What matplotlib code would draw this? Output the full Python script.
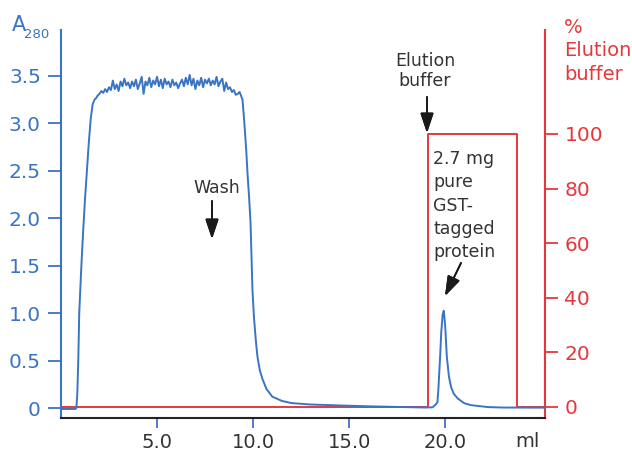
import numpy as np
import matplotlib
matplotlib.use('Agg')
import matplotlib.pyplot as plt

# Dados
blue = '#3a74c4'
red = '#e5383c'
dark = '#333333'

# A280: subida, platô (lavagem), queda, eluição
vol_rise = [0.0, 0.75, 0.8, 0.85, 0.9, 0.95, 1.05, 1.15, 1.25, 1.35, 1.45,
            1.55, 1.65, 1.75, 1.85]
abs_rise = [-0.01, -0.01, 0.0, 0.15, 0.5, 1.0, 1.45, 1.85, 2.2, 2.5, 2.8,
            3.05, 3.2, 3.25, 3.27]

vol_plateau = [1.9, 2.0, 2.1, 2.2, 2.3, 2.4, 2.5, 2.6, 2.7, 2.8, 2.9, 3.0,
               3.1, 3.2, 3.3, 3.4, 3.5, 3.6, 3.7, 3.8, 3.9, 4.0, 4.1, 4.2,
               4.3, 4.4, 4.5, 4.6, 4.7, 4.8, 4.9, 5.0, 5.1, 5.2, 5.3, 5.4,
               5.5, 5.6, 5.7, 5.8, 5.9, 6.0, 6.1, 6.2, 6.3, 6.4, 6.5, 6.6,
               6.7, 6.8, 6.9, 7.0, 7.1, 7.2, 7.3, 7.4, 7.5, 7.6, 7.7, 7.8,
               7.9, 8.0, 8.1, 8.2, 8.3, 8.4, 8.5, 8.6, 8.7, 8.8, 8.9, 9.0,
               9.1, 9.2]
abs_plateau = [3.29, 3.31, 3.34, 3.32, 3.36, 3.33, 3.38, 3.35, 3.45, 3.36,
               3.41, 3.34, 3.44, 3.39, 3.47, 3.40, 3.43, 3.37, 3.44, 3.39,
               3.46, 3.36, 3.42, 3.49, 3.31, 3.44, 3.40, 3.48, 3.38, 3.45,
               3.41, 3.49, 3.39, 3.46, 3.37, 3.47, 3.41, 3.44, 3.38, 3.46,
               3.40, 3.43, 3.37, 3.42, 3.46, 3.39, 3.48, 3.41, 3.51, 3.40,
               3.47, 3.36, 3.45, 3.40, 3.48, 3.38, 3.46, 3.42, 3.47, 3.40,
               3.45, 3.41, 3.49, 3.39, 3.44, 3.47, 3.34, 3.43, 3.36, 3.38,
               3.33, 3.35, 3.30, 3.31]

vol_tail = [9.3, 9.45, 9.55, 9.65, 9.71, 9.8, 9.87, 9.92, 9.97, 10.05,
            10.15, 10.23, 10.35, 10.5, 10.7, 11.0, 11.5, 12.0, 13.0, 14.0,
            15.0, 16.0, 17.0, 18.0, 19.0, 19.35, 19.5, 19.6, 19.65, 19.7,
            19.74, 19.8, 19.87, 19.93, 20.0, 20.09, 20.2, 20.31, 20.45,
            20.66, 21.0, 21.36, 22.23, 23.0, 25.2]
abs_tail = [3.33, 3.25, 3.0, 2.7, 2.48, 2.2, 1.95, 1.6, 1.24, 0.95,
            0.7, 0.54, 0.4, 0.3, 0.2, 0.12, 0.075, 0.052, 0.037, 0.03,
            0.024, 0.018, 0.014, 0.01, 0.005, 0.008, 0.035, 0.06, 0.2, 0.38,
            0.54, 0.8, 0.98, 1.025, 0.88, 0.54, 0.33, 0.22, 0.15,
            0.1, 0.05, 0.03, 0.01, 0.005, 0.004]

volume = np.array(vol_rise + vol_plateau + vol_tail)
a280 = np.array(abs_rise + abs_plateau + abs_tail)

# % tampão de eluição
vol_buffer = [0.0, 19.1, 19.1, 23.75, 23.75, 25.2]
pct_buffer = [0, 0, 100, 100, 0, 0]

x_ticks = [5.0, 10.0, 15.0, 20.0]
y_ticks = [0, 0.5, 1.0, 1.5, 2.0, 2.5, 3.0, 3.5]
y2_ticks = [0, 20, 40, 60, 80, 100]

fig = plt.figure(figsize=(6.32, 4.53), dpi=100)
ax = fig.add_axes([0.0965, 0.0773, 0.7658, 0.8565])
ax2 = ax.twinx()

ax.plot(volume, a280, color=blue, lw=1.4, zorder=3)
ax2.plot(vol_buffer, pct_buffer, color=red, lw=1.4)
ax.set_zorder(ax2.get_zorder() + 1)
ax.patch.set_visible(False)

ax.set_xlim(0, 25.2)
ax.set_ylim(-0.105, 3.983)
ax2.set_ylim(-4.03, 138.1)

ax.set_xticks(x_ticks)
ax.set_xticklabels([f'{v:.1f}' for v in x_ticks])
ax.set_yticks(y_ticks)
ax.set_yticklabels(['0' if v == 0 else f'{v:.1f}' for v in y_ticks])
ax2.set_yticks(y2_ticks)

ax.spines['top'].set_visible(False)
ax2.spines['top'].set_visible(False)
ax.spines['right'].set_visible(False)
ax2.spines['left'].set_visible(False)
ax2.spines['bottom'].set_visible(False)
ax.spines['left'].set_color(blue)
ax.spines['left'].set_linewidth(1.5)
ax.spines['bottom'].set_color('#222222')
ax.spines['bottom'].set_linewidth(1.5)
ax2.spines['right'].set_color(red)
ax2.spines['right'].set_linewidth(1.5)

ax.tick_params(axis='y', colors=blue, length=9.5, width=1.3, pad=5,
               labelsize=14.5)
ax.tick_params(axis='x', color=blue, labelcolor=dark, length=7.5, width=1.3,
               pad=3, labelsize=14)
ax2.tick_params(axis='y', colors=red, length=9, width=1.3, pad=5,
                labelsize=14.5)

# Rótulos dos eixos
fig.text(12 / 632, 1 - 31 / 453, 'A', color=blue, fontsize=15)
fig.text(24 / 632, 1 - 38 / 453, '280', color=blue, fontsize=9.5)
fig.text(564 / 632, 1 - 84 / 453, '%\nElution\nbuffer', color=red,
         fontsize=14, linespacing=1.3, va='bottom', ha='left')
ax.text(0.963, -0.035, 'ml', transform=ax.transAxes, color=dark,
        fontsize=14, ha='center', va='top')

# Anotações
fig.text(217 / 632, 1 - 188 / 453, 'Wash', color=dark, fontsize=12.5,
         ha='center', va='center')
fig.text(425 / 632, 1 - 71 / 453, 'Elution\nbuffer', color=dark,
         fontsize=12.5, ha='center', va='center', linespacing=1.2)
fig.text(433 / 632, 1 - 150 / 453, '2.7 mg\npure\nGST-\ntagged\nprotein',
         color=dark, fontsize=12.5, ha='left', va='top', linespacing=1.38)

arrow = dict(arrowstyle='-|>,head_width=0.2,head_length=0.6',
             color='#1a1a1a', lw=1.3, mutation_scale=20, shrinkA=0,
             shrinkB=0)
for (x0, y0), (x1, y1) in [((212, 201), (212, 239)),
                           ((427, 97), (427, 133)),
                           ((461, 263), (445, 296))]:
    fig.add_artist(plt.annotate('', xy=(x1, 453 - y1), xytext=(x0, 453 - y0),
                                xycoords='figure pixels',
                                textcoords='figure pixels',
                                arrowprops=arrow))

fig.savefig('out.png', dpi=100)
